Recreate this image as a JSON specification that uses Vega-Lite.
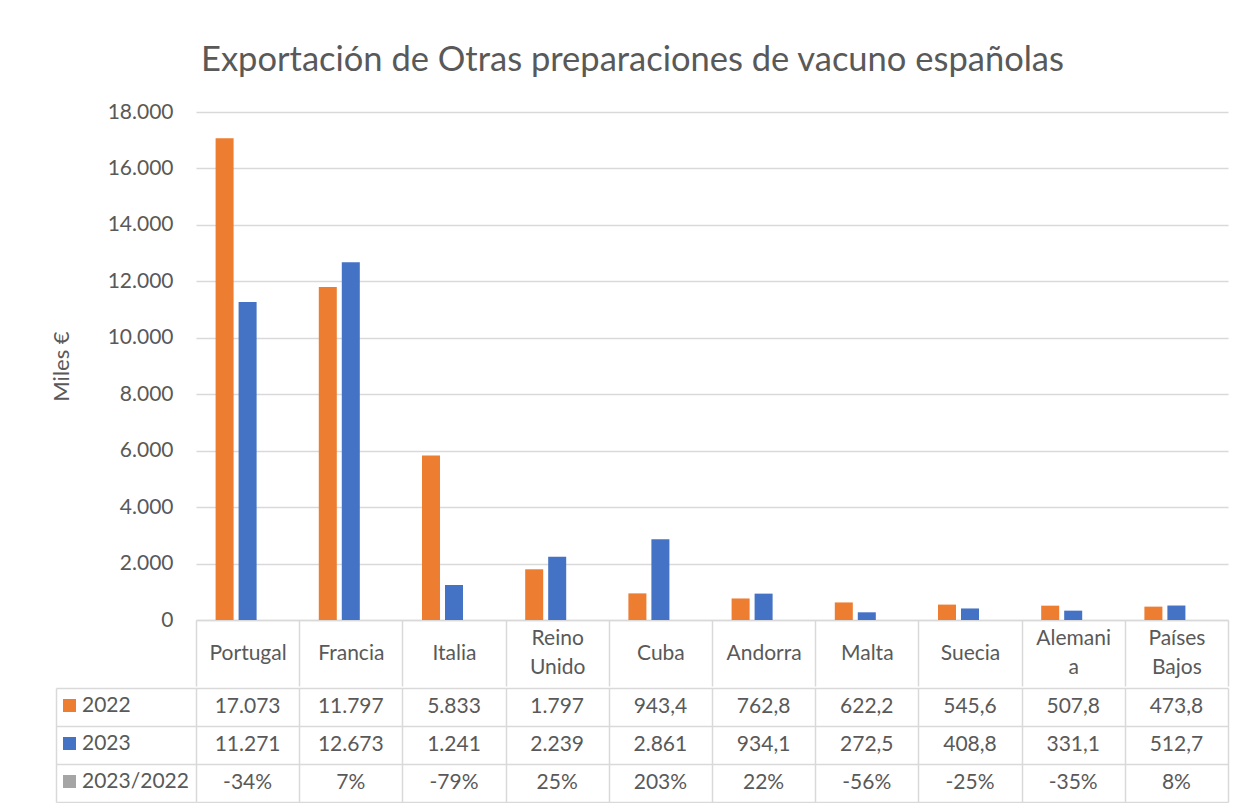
{
  "$schema": "https://vega.github.io/schema/vega-lite/v6.json",
  "background": "white",
  "padding": {"left": 50, "top": 43, "right": 5, "bottom": 0},
  "title": {"text": "Exportación de Otras preparaciones de vacuno españolas", "font": "Lato", "fontSize": 34.5, "fontWeight": "normal", "color": "#595959", "anchor": "middle", "offset": 22.5, "dx": -7},
  "data": {"values": [
    {"pais": "Portugal", "serie": "2022", "valor": 17073},
    {"pais": "Francia", "serie": "2022", "valor": 11797},
    {"pais": "Italia", "serie": "2022", "valor": 5833},
    {"pais": "Reino Unido", "serie": "2022", "valor": 1797},
    {"pais": "Cuba", "serie": "2022", "valor": 943.4},
    {"pais": "Andorra", "serie": "2022", "valor": 762.8},
    {"pais": "Malta", "serie": "2022", "valor": 622.2},
    {"pais": "Suecia", "serie": "2022", "valor": 545.6},
    {"pais": "Alemania", "serie": "2022", "valor": 507.8},
    {"pais": "Países Bajos", "serie": "2022", "valor": 473.8},
    {"pais": "Portugal", "serie": "2023", "valor": 11271},
    {"pais": "Francia", "serie": "2023", "valor": 12673},
    {"pais": "Italia", "serie": "2023", "valor": 1241},
    {"pais": "Reino Unido", "serie": "2023", "valor": 2239},
    {"pais": "Cuba", "serie": "2023", "valor": 2861},
    {"pais": "Andorra", "serie": "2023", "valor": 934.1},
    {"pais": "Malta", "serie": "2023", "valor": 272.5},
    {"pais": "Suecia", "serie": "2023", "valor": 408.8},
    {"pais": "Alemania", "serie": "2023", "valor": 331.1},
    {"pais": "Países Bajos", "serie": "2023", "valor": 512.7},
    {"pais": "Portugal", "serie": "2023/2022", "valor": -0.34},
    {"pais": "Francia", "serie": "2023/2022", "valor": 0.07},
    {"pais": "Italia", "serie": "2023/2022", "valor": -0.79},
    {"pais": "Reino Unido", "serie": "2023/2022", "valor": 0.25},
    {"pais": "Cuba", "serie": "2023/2022", "valor": 2.03},
    {"pais": "Andorra", "serie": "2023/2022", "valor": 0.22},
    {"pais": "Malta", "serie": "2023/2022", "valor": -0.56},
    {"pais": "Suecia", "serie": "2023/2022", "valor": -0.25},
    {"pais": "Alemania", "serie": "2023/2022", "valor": -0.35},
    {"pais": "Países Bajos", "serie": "2023/2022", "valor": 0.08}
  ]},
  "spacing": 0,
  "vconcat": [
    {
      "width": 1032,
      "height": 508,
      "transform": [{"filter": "datum.serie !== '2023/2022'"}],
      "mark": {"type": "bar"},
      "encoding": {
        "x": {
          "field": "pais", "type": "nominal",
          "sort": ["Portugal", "Francia", "Italia", "Reino Unido", "Cuba", "Andorra", "Malta", "Suecia", "Alemania", "Países Bajos"],
          "scale": {"domain": ["Portugal", "Francia", "Italia", "Reino Unido", "Cuba", "Andorra", "Malta", "Suecia", "Alemania", "Países Bajos"], "paddingInner": 0, "paddingOuter": 0},
          "axis": {
            "title": null, "labelAngle": 0, "grid": false,
            "domain": true, "domainColor": "#D9D9D9", "domainWidth": 1.5,
            "ticks": true, "tickBand": "extent", "tickSize": 66, "tickColor": "#D9D9D9", "tickWidth": 1.5,
            "labelPadding": {"condition": {"test": "datum.value == 'Reino Unido' || datum.value == 'Países Bajos' || datum.value == 'Alemania'", "value": -47.5}, "value": -33},
            "labelBaseline": "middle", "labelFont": "Lato", "labelFontSize": 21, "labelColor": "#595959",
            "labelLineHeight": 29, "labelOverlap": false, "labelBound": false,
            "labelExpr": "datum.value == 'Reino Unido' ? ['Reino', 'Unido'] : datum.value == 'Países Bajos' ? ['Países', 'Bajos'] : datum.value == 'Alemania' ? ['Alemani', 'a'] : datum.value"
          }
        },
        "xOffset": {
          "field": "serie", "type": "nominal",
          "scale": {"domain": ["2022", "2023", "2023/2022"], "paddingInner": 0.217, "paddingOuter": 0.852}
        },
        "y": {
          "field": "valor", "type": "quantitative",
          "scale": {"domain": [0, 18000]},
          "axis": {
            "title": "Miles €", "titleFont": "Lato", "titleFontSize": 22, "titleFontWeight": "normal", "titleColor": "#595959", "titlePadding": 34,
            "values": [0, 2000, 4000, 6000, 8000, 10000, 12000, 14000, 16000, 18000],
            "format": ",.0f", "labelFont": "Lato", "labelFontSize": 21, "labelColor": "#595959", "labelPadding": 23,
            "ticks": false, "domain": false, "grid": true, "gridColor": "#D9D9D9", "gridWidth": 1.5
          }
        },
        "color": {
          "field": "serie", "type": "nominal",
          "scale": {"domain": ["2022", "2023", "2023/2022"], "range": ["#ED7D31", "#4472C4", "#A5A5A5"]},
          "legend": {
            "orient": "none", "legendX": -137, "legendY": 583, "title": null, "direction": "vertical",
            "symbolType": "square", "symbolSize": 169, "symbolStrokeWidth": 0,
            "labelFont": "Lato", "labelFontSize": 21, "labelColor": "#595959", "labelOffset": 2, "rowPadding": 16
          }
        }
      }
    },
    {
      "width": 1032,
      "height": 114,
      "encoding": {
        "x": {
          "field": "pais", "type": "nominal",
          "scale": {"domain": ["Portugal", "Francia", "Italia", "Reino Unido", "Cuba", "Andorra", "Malta", "Suecia", "Alemania", "Países Bajos"], "paddingInner": 0, "paddingOuter": 0},
          "axis": {"title": null, "labels": false, "ticks": false, "domain": false, "grid": true, "tickBand": "extent", "gridColor": "#D9D9D9", "gridWidth": 1.5}
        },
        "y": {
          "field": "serie", "type": "nominal",
          "scale": {"domain": ["2022", "2023", "2023/2022"], "paddingInner": 0, "paddingOuter": 0},
          "axis": {
            "orient": "left", "offset": 140, "title": null, "labels": false,
            "domain": true, "domainColor": "#D9D9D9", "domainWidth": 1.5,
            "ticks": true, "tickSize": -140, "tickBand": "extent", "tickColor": "#D9D9D9", "tickWidth": 1.5,
            "grid": true, "gridColor": "#D9D9D9", "gridWidth": 1.5
          }
        }
      },
      "layer": [
        {
          "transform": [{"filter": "datum.serie === '2023/2022'"}],
          "mark": {"type": "text", "font": "Lato", "fontSize": 21, "color": "#595959", "align": "center", "baseline": "middle"},
          "encoding": {"text": {"field": "valor", "type": "quantitative", "format": ".0%"}}
        },
        {
          "transform": [{"filter": "datum.serie !== '2023/2022' && datum.valor >= 1000"}],
          "mark": {"type": "text", "font": "Lato", "fontSize": 21, "color": "#595959", "align": "center", "baseline": "middle"},
          "encoding": {"text": {"field": "valor", "type": "quantitative", "format": ",.0f"}}
        },
        {
          "transform": [{"filter": "datum.serie !== '2023/2022' && datum.valor < 1000"}],
          "mark": {"type": "text", "font": "Lato", "fontSize": 21, "color": "#595959", "align": "center", "baseline": "middle"},
          "encoding": {"text": {"field": "valor", "type": "quantitative", "format": ",.1f"}}
        }
      ]
    }
  ],
  "config": {
    "view": {"stroke": null},
    "locale": {"number": {"decimal": ",", "thousands": ".", "grouping": [3], "currency": ["", " €"], "minus": "-", "percent": "%"}},
    "font": "Lato"
  }
}
